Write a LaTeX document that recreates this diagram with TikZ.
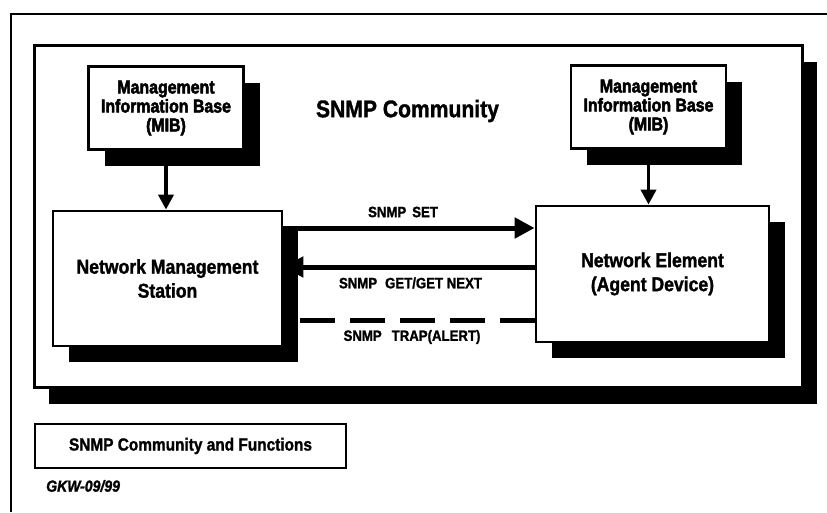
\documentclass[tikz,border=0pt]{standalone}
\usepackage{fontspec}
\newfontfamily\hv[FakeStretch=0.88,BoldFeatures={FakeBold=1.4},BoldItalicFeatures={FakeBold=1.4}]{Liberation Sans}
\newfontfamily\hvheavy[FakeStretch=0.86,BoldFeatures={FakeBold=2.6}]{Liberation Sans}
\usetikzlibrary{arrows.meta,shadows}
\begin{document}
\begin{tikzpicture}[x=1pt,y=-1pt,
  box/.style={draw=black, line width=2.8pt, fill=white, inner sep=0pt, align=center},
  shad/.style={drop shadow={shadow xshift=16pt,shadow yshift=-16pt,fill=black,opacity=1}},
  frameshad/.style={drop shadow={shadow xshift=14pt,shadow yshift=-16pt,fill=black,opacity=1}},
  mibbox/.style={box, shad, minimum width=155pt, minimum height=83pt,
    font=\hvheavy\bfseries\fontsize{18.5}{19}\selectfont},
  unitbox/.style={box, shad, font=\hv\bfseries\fontsize{20}{24}\selectfont},
  lbl/.style={inner sep=0pt, font=\hv\bfseries\fontsize{15}{18}\selectfont},
  feed/.style={line width=3.8pt, -{Triangle[length=15pt,width=15pt]}},
  bigarrow/.style={line width=5pt, -{Triangle[length=20pt,width=20pt]}},
  trapline/.style={line width=5pt, dash pattern=on 35pt off 15pt}
]
\useasboundingbox (0,0) rectangle (827,512);

% page edge
\draw[line width=2.8pt] (11,512) -- (11,14) -- (827,14);

% community frame
\node[box, frameshad, minimum width=768pt, minimum height=342pt] (frame) at (418.75,216.5) {};
\node[inner sep=0pt, font=\hv\bfseries\fontsize{24}{28}\selectfont] (title) at (407.5,111) {SNMP Community};

% information bases
\node[mibbox] (mibL) at (166,108) {Management\\Information Base\\(MIB)};
\node[mibbox] (mibR) at (648.5,107) {Management\\Information Base\\(MIB)};

% station and element
\node[unitbox, minimum width=229pt, minimum height=135pt] (nms) at (167.5,278.5) {Network Management\\Station};
\node[unitbox, minimum width=233pt, minimum height=136pt] (ne) at (652.5,274) {Network Element\\(Agent Device)};

\draw[feed] (mibL.south) -- (mibL.south |- nms.north);
\draw[feed] (mibR.south) -- (mibR.south |- ne.north);

% protocol operations
\coordinate (ySet) at (0,228);
\coordinate (yGet) at (0,267);
\coordinate (yTrap) at (0,320);
\draw[bigarrow] (nms.east |- ySet) -- (ne.west |- ySet);
\draw[bigarrow] (ne.west |- yGet) -- (nms.east |- yGet);
\draw[trapline] (ne.west |- yTrap) -- (nms.east |- yTrap);

\node[lbl] (lset) at (403,212) {SNMP\hspace{6pt}SET};
\node[lbl] (lget) at (410.5,283) {SNMP\hspace{8pt}GET/GET NEXT};
\node[lbl] (ltrap) at (412,337) {SNMP\hspace{10pt}TRAP(ALERT)};

% caption
\node[box, minimum width=311pt, minimum height=44pt,
  font=\hv\bfseries\fontsize{17.5}{20}\selectfont] (cap) at (190.5,446) {SNMP Community and Functions};
\node[anchor=west, inner sep=0pt, font=\hv\bfseries\itshape\fontsize{16}{18}\selectfont] (tag) at (46,486) {GKW-09/99};
\end{tikzpicture}
\end{document}
